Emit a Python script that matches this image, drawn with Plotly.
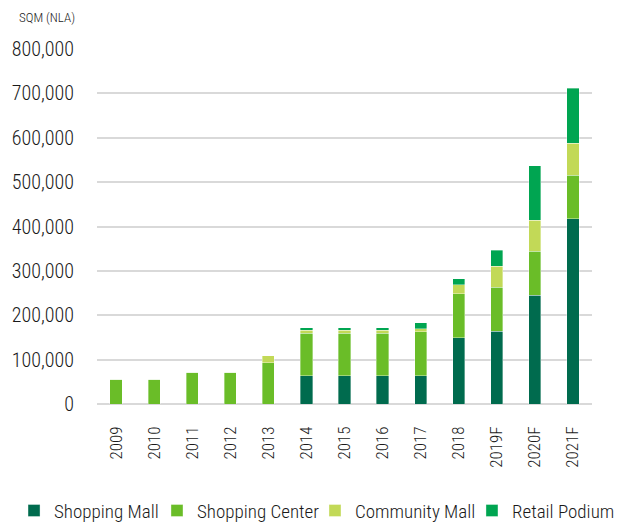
import plotly.graph_objects as go

years = ["2009", "2010", "2011", "2012", "2013", "2014", "2015", "2016", "2017",
         "2018", "2019F", "2020F", "2021F"]
shopping_mall = [0, 0, 0, 0, 0, 64000, 64000, 64000, 64000, 149000, 164000, 245000, 418000]
shopping_center = [56000, 56000, 72000, 72000, 93000, 96000, 96000, 96000, 99000, 99000, 99000, 99000, 98000]
community_mall = [0, 0, 0, 0, 16000, 6000, 6000, 6000, 7000, 21000, 47000, 70000, 72000]
retail_podium = [0, 0, 0, 0, 0, 6000, 6000, 6000, 13000, 13000, 37000, 123000, 124000]

y_ticks = [0, 100000, 200000, 300000, 400000, 500000, 600000, 700000, 800000]
y_ticklabels = ["0", "100,000", "200,000", "300,000", "400,000", "500,000",
                "600,000", "700,000", "800,000"]

FONT = "Roboto Condensed, Liberation Sans Narrow, sans-serif"

series = [
    ("Shopping Mall", shopping_mall, "#006B4E", "legend", 0.0222),
    ("Shopping Center", shopping_center, "#6ABD28", "legend2", 0.2484),
    ("Community Mall", community_mall, "#C2D957", "legend3", 0.4984),
    ("Retail Podium", retail_podium, "#00A551", "legend4", 0.7468),
]

fig = go.Figure()
legend_layouts = {}
for name, vals, color, lg, lx in series:
    fig.add_trace(go.Bar(
        x=years, y=vals, name=name, legend=lg,
        marker=dict(color=color, line=dict(color="rgba(255,255,255,0.6)", width=0.6)),
        width=0.32,
    ))
    legend_layouts[lg] = dict(
        orientation="h",
        xref="container", yref="container",
        x=lx, xanchor="left",
        y=0.031, yanchor="middle",
        font=dict(size=19, family=FONT, color="#1a1a1a", weight=300),
        itemwidth=30,
        bgcolor="rgba(0,0,0,0)",
    )

fig.update_layout(
    barmode="stack",
    width=632, height=527,
    margin=dict(l=97, r=40, t=49, b=123, autoexpand=False),
    paper_bgcolor="white",
    plot_bgcolor="white",
    font=dict(family=FONT, color="#1a1a1a", size=18, weight=300),
    showlegend=True,
    xaxis=dict(
        tickangle=-90,
        tickfont=dict(size=17, weight=300),
        showgrid=False,
        showline=False,
        ticks="",
        ticklabelstandoff=18,
    ),
    yaxis=dict(
        range=[0, 800000],
        tickvals=y_ticks,
        ticktext=y_ticklabels,
        tickfont=dict(size=20, weight=300),
        showgrid=True,
        gridcolor="#D9D9D9",
        gridwidth=2,
        zeroline=True,
        zerolinecolor="#D9D9D9",
        zerolinewidth=2,
        showline=False,
        ticks="",
        ticklabelstandoff=22,
    ),
    annotations=[
        dict(text="SQM (NLA)", xref="paper", yref="paper",
             x=0, y=1, xshift=-80, yshift=32, xanchor="left", yanchor="middle",
             showarrow=False, font=dict(size=13, family=FONT, color="#1a1a1a", weight=300)),
    ],
    **legend_layouts,
)

fig.write_html("out.html")
